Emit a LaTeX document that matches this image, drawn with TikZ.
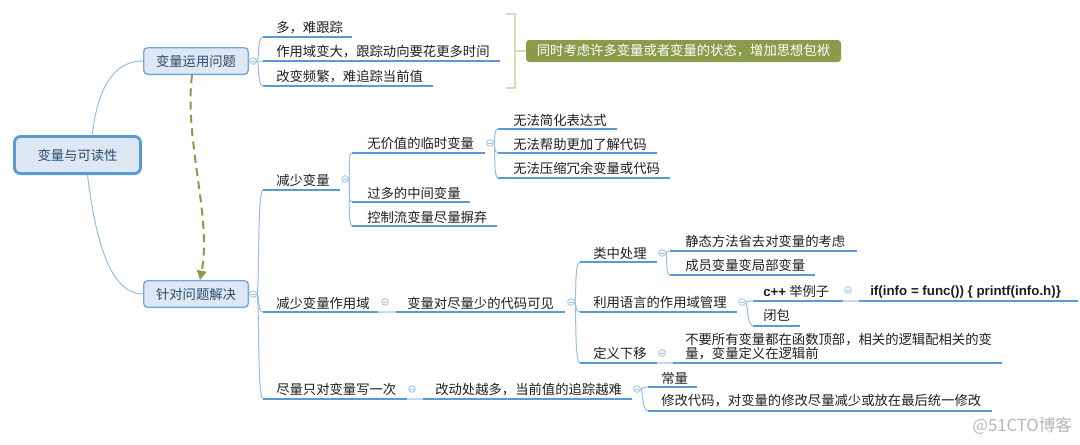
\documentclass[tikz,border=0pt]{standalone}
\usepackage{fontspec}
\setmainfont{Noto Sans CJK SC}
\newfontfamily\latb{Liberation Sans}
\usetikzlibrary{arrows.meta}
\definecolor{ulc}{HTML}{5B9BD5}
\definecolor{brc}{HTML}{92BDE8}
\definecolor{lkc}{HTML}{C2DAF1}
\definecolor{foldc}{HTML}{9CC2E8}
\definecolor{txt}{HTML}{1E1E1E}
\definecolor{boxf}{HTML}{DDE8F4}
\definecolor{rootb}{HTML}{5B9BD5}
\definecolor{mainb}{HTML}{6FA7DF}
\definecolor{boxt}{HTML}{2C4A6A}
\definecolor{oliv}{HTML}{8A9B4A}
\definecolor{brk}{HTML}{D3DCB2}
\definecolor{wm}{HTML}{B5B5B5}
\newcommand{\tp}[7]{%
  \coordinate (#1-s) at (#2,#4);
  \coordinate (#1-e) at (#3,#4);
  \draw[uline] (#1-s) -- (#1-e);
  \node[topic] (#1) at (#5,#6) {#7};
}
\begin{document}
\begin{tikzpicture}[x=0.75pt,y=-0.75pt,
  topic/.style={anchor=west, inner sep=0pt, font=\fontsize{10pt}{12pt}\selectfont, text=txt, text height=8.8pt, text depth=1.2pt},
  uline/.style={draw=ulc, line width=1.5pt},
  branch/.style={draw=brc, line width=0.75pt},
  link/.style={draw=lkc, line width=1.5pt},
  fold/.style={circle, draw=foldc, fill=white, line width=0.6pt, minimum size=5pt, inner sep=0pt,
    path picture={\draw[foldc, line width=0.5pt] ([xshift=-1.3pt]path picture bounding box.center) -- ([xshift=1.3pt]path picture bounding box.center);}},
  rootbox/.style={draw=rootb, fill=boxf, line width=2.2pt, rounded corners=4.5pt, minimum width=94.5pt, minimum height=27.8pt, text=boxt, font=\fontsize{10pt}{12pt}\selectfont},
  mainbox/.style={draw=mainb, fill=boxf, line width=1pt, rounded corners=3pt, minimum width=78.5pt, minimum height=20pt, text=boxt, font=\fontsize{10pt}{12pt}\selectfont},
  summ/.style={fill=oliv, rounded corners=2.5pt, minimum width=236.25pt, minimum height=16.5pt, inner sep=0pt, text=white, font=\fontsize{10pt}{12pt}\selectfont},
  bracket/.style={draw=brk, line width=2.2pt},
  relarrow/.style={draw=oliv, line width=1.5pt, dash pattern=on 6pt off 4pt, -{Triangle[length=7pt,width=7pt]}}
  ]
\useasboundingbox (0,0) rectangle (1080,444);

% central and main topics
\node[rootbox] (R) at (77.5,155) {变量与可读性};
\node[mainbox] (A) at (196,61) {变量运用问题};
\node[mainbox] (B) at (196,294) {针对问题解决};
\node[fold] (fA) at (253,61) {};
\node[fold] (fB) at (253,294) {};
\draw[branch] ([xshift=11pt]R.north) .. controls +(6,-50) and +(-28,0) .. (A.west);
\draw[branch] ([xshift=7.5pt]R.south) .. controls +(8,65) and +(-33,0) .. (B.west);

% relationship arrow
\draw[relarrow] ([xshift=-3pt]A.south) .. controls (184,140) and (212,218) .. ([xshift=3pt]B.north);

% children of A
\tp{a1}{263}{352}{37}{276}{27}{多，难跟踪}
\tp{a2}{263}{500}{61}{276}{51}{作用域变大，跟踪动向要花更多时间}
\tp{a3}{263}{433}{86}{276}{76}{改变频繁，难追踪当前值}
\foreach \c in {a1,a2,a3} \draw[branch] (fA.east) .. controls +(3,0) and +(-6,0) .. (\c-s);

% summary
\node[summ] (S) at (683.5,51) {同时考虑许多变量或者变量的状态，增加思想包袱};
\draw[bracket] (506,14) -- (515,14) -- (515,88) -- (506,88);
\draw[bracket] (515,51) -- (S.west);

% children of B
\tp{b1}{263}{340}{190}{276}{180}{减少变量}
\tp{b2}{263}{378}{312}{276}{303}{减少变量作用域}
\tp{b3}{263}{407}{399}{276}{389}{尽量只对变量写一次}
\foreach \c in {b1,b2,b3} \draw[branch] (fB.east) .. controls +(3,0) and +(-6,0) .. (\c-s);
\node[fold] (fb1) at (345,179) {};
\node[fold] (fb2) at (385,302) {};
\node[fold] (fb3) at (412,389) {};

% b1 children
\tp{b11}{352}{485}{153}{367}{143}{无价值的临时变量}
\tp{b12}{352}{470}{202}{367}{193}{过多的中间变量}
\tp{b13}{352}{497}{226}{367}{217}{控制流变量尽量摒弃}
\foreach \c in {b11,b12,b13} \draw[branch] (fb1.east) .. controls +(2,0) and +(-5,0) .. (\c-s);
\node[fold] (fb11) at (490,143) {};
\tp{b111}{498}{617}{129}{513}{120}{无法简化表达式}
\tp{b112}{498}{657}{153}{513}{144}{无法帮助更加了解代码}
\tp{b113}{498}{670}{178}{513}{168}{无法压缩冗余变量或代码}
\foreach \c in {b111,b112,b113} \draw[branch] (fb11.east) .. controls +(2,0) and +(-5,0) .. (\c-s);

% b2 child
\tp{b21}{396}{565}{312}{407}{303}{变量对尽量少的代码可见}
\draw[link] (b2-e) -- (b21-s);
\node[fold] (fb21) at (571,302) {};
\tp{c1}{580}{657}{262}{593}{253}{类中处理}
\tp{c2}{580}{737}{312}{593}{302}{利用语言的作用域管理}
\tp{c3}{580}{657}{363}{593}{353}{定义下移}
\foreach \c in {c1,c2,c3} \draw[branch] (fb21.east) .. controls +(2,0) and +(-6,0) .. (\c-s);
\node[fold] (fc1) at (662,253) {};
\node[fold] (fc2) at (742,302) {};
\node[fold] (fc3) at (662,353) {};

\tp{c11}{670}{857}{251}{685}{241}{静态方法省去对变量的考虑}
\tp{c12}{670}{815}{275}{685}{265}{成员变量变局部变量}
\foreach \c in {c11,c12} \draw[branch] (fc1.east) .. controls +(2,0) and +(-5,0) .. (\c-s);

\tp{c21}{753}{843}{301}{763}{291}{{\latb\bfseries c++} 举例子}
\tp{c22}{753}{800}{326}{763}{315}{闭包}
\foreach \c in {c21,c22} \draw[branch] (fc2.east) .. controls +(2,0) and +(-6,0) .. (\c-s);
\node[fold] (fc21) at (848,290) {};
\tp{c211}{859}{1078}{301}{870}{290}{\latb\bfseries if(info = func()) \{ printf(info.h)\}}
\draw[link] (c21-e) -- (c211-s);

\coordinate (c31-s) at (673,363);
\coordinate (c31-e) at (1002,363);
\draw[uline] (c31-s) -- (c31-e);
\node[topic, anchor=base west, align=left, text height=, text depth=, font=\fontsize{10pt}{10.5pt}\selectfont] (c31) at (685,358) {不要所有变量都在函数顶部，相关的逻辑配相关的变\\量，变量定义在逻辑前};
\draw[link] (c3-e) -- (c31-s);

% b3 child
\tp{b31}{423}{632}{399}{435}{389}{改动处越多，当前值的追踪越难}
\draw[link] (b3-e) -- (b31-s);
\node[fold] (fb31) at (637,389) {};
\tp{b311}{648}{697}{387}{661}{378}{常量}
\tp{b312}{648}{992}{411}{661}{400}{修改代码，对变量的修改尽量减少或放在最后统一修改}
\foreach \c in {b311,b312} \draw[branch] (fb31.east) .. controls +(2,0) and +(-6,0) .. (\c-s);

% watermark
\node[anchor=west, inner sep=0pt, text=wm, font=\fontsize{12.5pt}{14pt}\selectfont] (wmk) at (972,426) {@51CTO博客};
\end{tikzpicture}
\end{document}
